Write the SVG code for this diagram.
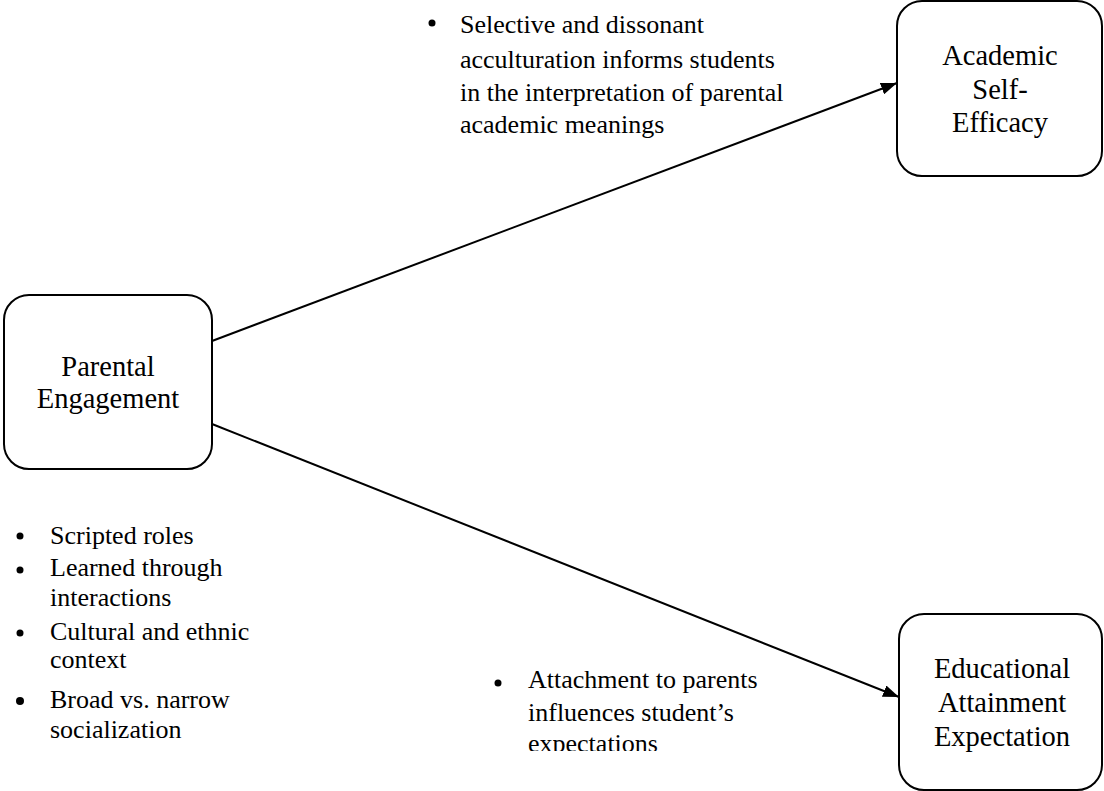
<svg xmlns="http://www.w3.org/2000/svg" width="1104" height="791" viewBox="0 0 1104 791">
<style>
.box{fill:#fff;stroke:#000;stroke-width:2}
.lbl{font-family:"Liberation Serif","Times New Roman",serif;font-size:28.5px;fill:#000;text-anchor:middle}
.note{font-family:"Liberation Serif","Times New Roman",serif;font-size:26px;fill:#000}
.dot{fill:#000}
.edge{stroke:#000;stroke-width:2;fill:none}
</style>
<defs>
<marker id="arr" viewBox="0 0 16 12" refX="16" refY="6" markerWidth="16" markerHeight="12" markerUnits="userSpaceOnUse" orient="auto">
<path d="M0,0 L16,6 L0,12 Z" fill="#000"/>
</marker>
<clipPath id="clipBottom"><rect x="0" y="0" width="1104" height="751"/></clipPath>
</defs>
<rect width="1104" height="791" fill="#fff"/>
<g id="connectors">
<line class="edge" x1="212" y1="341" x2="897" y2="83" marker-end="url(#arr)"/>
<line class="edge" x1="212" y1="424" x2="899" y2="697" marker-end="url(#arr)"/>
</g>
<g id="parental-engagement">
<rect class="box" x="4" y="295" width="208" height="174" rx="25" ry="25"/>
<text class="lbl" x="108" y="376">Parental</text>
<text class="lbl" x="108" y="408">Engagement</text>
</g>
<g id="academic-self-efficacy">
<rect class="box" x="897" y="1" width="205" height="175" rx="25" ry="25"/>
<text class="lbl" x="1000" y="65">Academic</text>
<text class="lbl" x="1000" y="99">Self-</text>
<text class="lbl" x="1000" y="132">Efficacy</text>
</g>
<g id="educational-attainment-expectation">
<rect class="box" x="899" y="614" width="203" height="176" rx="25" ry="25"/>
<text class="lbl" x="1002" y="678">Educational</text>
<text class="lbl" x="1002" y="712">Attainment</text>
<text class="lbl" x="1002" y="746">Expectation</text>
</g>
<g id="note-acculturation">
<circle class="dot" cx="432" cy="23" r="3.5"/>
<text class="note" x="460" y="33">Selective and dissonant</text>
<text class="note" x="460" y="68">acculturation informs students</text>
<text class="note" x="460" y="101">in the interpretation of parental</text>
<text class="note" x="460" y="133">academic meanings</text>
</g>
<g id="note-roles">
<circle class="dot" cx="20" cy="536" r="3.5"/>
<text class="note" x="50" y="544">Scripted roles</text>
<circle class="dot" cx="20" cy="570" r="3.5"/>
<text class="note" x="50" y="576">Learned through</text>
<text class="note" x="50" y="606">interactions</text>
<circle class="dot" cx="20" cy="633" r="3.5"/>
<text class="note" x="50" y="640">Cultural and ethnic</text>
<text class="note" x="50" y="668">context</text>
<circle class="dot" cx="20" cy="701" r="4"/>
<text class="note" x="50" y="708">Broad vs. narrow</text>
<text class="note" x="50" y="738">socialization</text>
</g>
<g id="note-attachment" clip-path="url(#clipBottom)">
<circle class="dot" cx="498" cy="683" r="3.5"/>
<text class="note" x="528" y="688">Attachment to parents</text>
<text class="note" x="528" y="721">influences student’s</text>
<text class="note" x="528" y="752">expectations</text>
</g>
</svg>
